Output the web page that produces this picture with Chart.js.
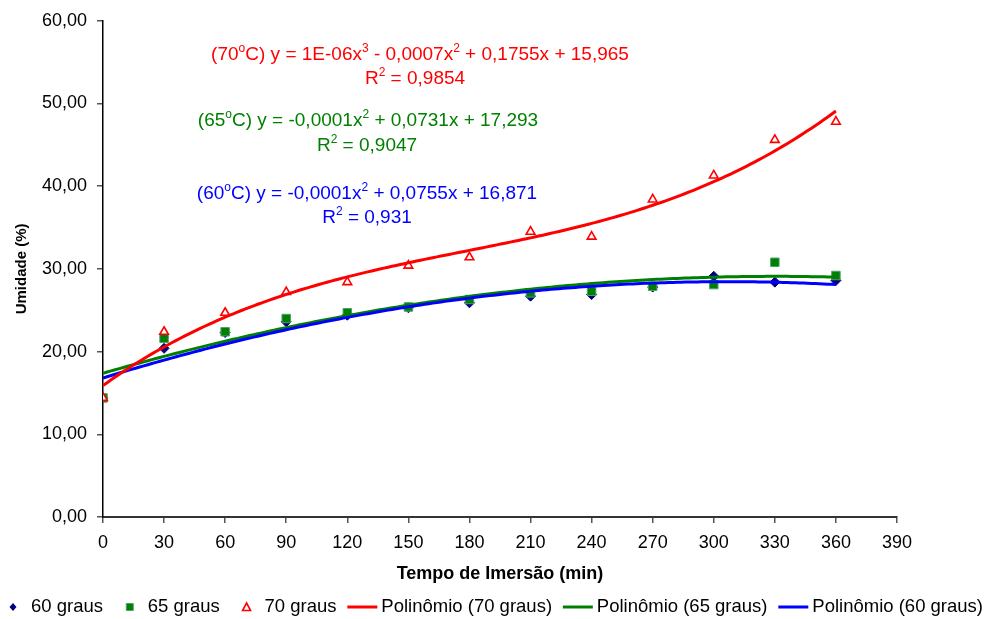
<!DOCTYPE html>
<html><head><meta charset="utf-8">
<script src="https://cdn.jsdelivr.net/npm/chart.js@4.4.1/dist/chart.umd.min.js"></script>
<style>
html,body{margin:0;padding:0;background:#fff;}
#wrap{position:relative;width:984px;height:619px;overflow:hidden;}
canvas{display:block;}
.eq{position:absolute;white-space:nowrap;font-family:"Liberation Sans",Arial,sans-serif;font-size:19px;line-height:19px;transform:translate(-50%,-50%);}
.eq sup{font-size:12px;line-height:0;vertical-align:8px;}
</style></head>
<body><div id="wrap"><canvas id="c" width="984" height="619"></canvas>
<div class="eq" style="left:420px;top:53px;color:#ff0000">(70<sup>o</sup>C) y = 1E-06x<sup>3</sup> - 0,0007x<sup>2</sup> + 0,1755x + 15,965</div>
<div class="eq" style="left:415px;top:77px;color:#ff0000">R<sup>2</sup> = 0,9854</div>
<div class="eq" style="left:368px;top:119px;color:#008000">(65<sup>o</sup>C) y = -0,0001x<sup>2</sup> + 0,0731x + 17,293</div>
<div class="eq" style="left:367px;top:144px;color:#008000">R<sup>2</sup> = 0,9047</div>
<div class="eq" style="left:367px;top:192px;color:#0000ff">(60<sup>o</sup>C) y = -0,0001x<sup>2</sup> + 0,0755x + 16,871</div>
<div class="eq" style="left:367px;top:216px;color:#0000ff">R<sup>2</sup> = 0,931</div>
</div>
<script>
// ---- data ----
const times = [0, 30, 60, 90, 120, 150, 180, 210, 240, 270, 300, 330, 360];
const u60 = [14.4, 20.4, 22.3, 23.6, 24.4, 25.3, 25.9, 26.7, 26.9, 27.8, 29.1, 28.4, 28.6];
const u65 = [14.4, 21.6, 22.4, 24.0, 24.7, 25.4, 26.3, 27.1, 27.3, 27.9, 28.1, 30.8, 29.2];
const u70 = [14.4, 22.4, 24.7, 27.2, 28.4, 30.4, 31.4, 34.5, 33.9, 38.4, 41.3, 45.6, 47.8];
const seriesLabels = ['60 graus', '65 graus', '70 graus', 'Polinômio (70 graus)', 'Polinômio (65 graus)', 'Polinômio (60 graus)'];
const xTickLabels = ['0', '30', '60', '90', '120', '150', '180', '210', '240', '270', '300', '330', '360', '390'];
const yTickLabels = ['0,00', '10,00', '20,00', '30,00', '40,00', '50,00', '60,00'];
const xTitle = 'Tempo de Imersão (min)';
const yTitle = 'Umidade (%)';

const FONT = '"Liberation Sans", Arial, sans-serif';

// least-squares polynomial trendline (as the spreadsheet trendline does)
function polyfit(xs, ys, deg) {
  const s = Math.max(...xs);
  const n = deg + 1;
  const A = [], b = [];
  for (let i = 0; i < n; i++) {
    A.push(new Array(n).fill(0)); b.push(0);
    for (let k = 0; k < xs.length; k++) {
      const t = xs[k] / s;
      b[i] += ys[k] * Math.pow(t, i);
      for (let j = 0; j < n; j++) A[i][j] += Math.pow(t, i + j);
    }
  }
  for (let c = 0; c < n; c++) {
    let p = c;
    for (let r = c + 1; r < n; r++) if (Math.abs(A[r][c]) > Math.abs(A[p][c])) p = r;
    [A[c], A[p]] = [A[p], A[c]]; [b[c], b[p]] = [b[p], b[c]];
    for (let r = 0; r < n; r++) {
      if (r === c) continue;
      const f = A[r][c] / A[c][c];
      for (let j = c; j < n; j++) A[r][j] -= f * A[c][j];
      b[r] -= f * b[c];
    }
  }
  const coef = b.map((v, i) => v / A[i][i]);
  return x => coef.reduce((acc, cf, i) => acc + cf * Math.pow(x / s, i), 0);
}
function trend(ys, deg) {
  const f = polyfit(times, ys, deg);
  const out = [];
  const xmax = times[times.length - 1];
  for (let x = 0; x <= xmax; x += 2) out.push({ x: x, y: f(x) });
  return out;
}
const pts = ys => times.map((t, i) => ({ x: t, y: ys[i] }));

const datasets = [
  { label: seriesLabels[0], data: pts(u60), pointStyle: 'rectRot', pointRadius: 5, backgroundColor: '#000080', borderColor: '#000080', borderWidth: 1, order: 12, mk: 'diamond' },
  { label: seriesLabels[1], data: pts(u65), pointStyle: 'rect', pointRadius: 6, backgroundColor: '#008000', borderColor: '#4f9f70', borderWidth: 1, order: 11, mk: 'square' },
  { label: seriesLabels[2], data: pts(u70), pointStyle: 'triangle', pointRadius: 5, backgroundColor: '#ffffff', borderColor: '#ff0000', borderWidth: 1.6, order: 10, mk: 'triangle' },
  { label: seriesLabels[3], data: trend(u70, 3), showLine: true, pointRadius: 0, borderColor: '#ff0000', backgroundColor: '#ff0000', borderWidth: 3, order: 0, mk: 'line' },
  { label: seriesLabels[4], data: trend(u65, 2), showLine: true, pointRadius: 0, borderColor: '#008000', backgroundColor: '#008000', borderWidth: 3, order: 2, mk: 'line' },
  { label: seriesLabels[5], data: trend(u60, 2), showLine: true, pointRadius: 0, borderColor: '#0000ff', backgroundColor: '#0000ff', borderWidth: 3, order: 1, mk: 'line' }
];

const legendPlugin = {
  id: 'bottomLegend',
  afterDraw(chart) {
    const ctx = chart.ctx;
    const ds = chart.data.datasets;
    ctx.save();
    ctx.font = '18.5px ' + FONT;
    ctx.textBaseline = 'middle';
    ctx.textAlign = 'left';
    const widths = ds.map(d => ctx.measureText(d.label).width);
    const total = widths.reduce((a, b) => a + b, 0);
    const startX = 31, endX = 983;
    const gap = (endX - startX - total) / (ds.length - 1);
    const y = 607;
    let x = startX;
    ds.forEach((d, i) => {
      ctx.beginPath();
      if (d.mk === 'line') {
        ctx.strokeStyle = d.borderColor; ctx.lineWidth = 3;
        ctx.moveTo(x - 34, y); ctx.lineTo(x - 4, y); ctx.stroke();
      } else {
        const cx = x - 18;
        ctx.fillStyle = d.backgroundColor; ctx.strokeStyle = d.borderColor; ctx.lineWidth = d.borderWidth;
        if (d.mk === 'diamond') {
          ctx.moveTo(cx, y - 4); ctx.lineTo(cx + 3.5, y); ctx.lineTo(cx, y + 4); ctx.lineTo(cx - 3.5, y); ctx.closePath();
          ctx.fill();
        } else if (d.mk === 'square') {
          ctx.rect(cx - 3.5, y - 3.5, 7, 7); ctx.fill(); ctx.stroke();
        } else {
          ctx.moveTo(cx, y - 4); ctx.lineTo(cx + 4, y + 3.5); ctx.lineTo(cx - 4, y + 3.5); ctx.closePath();
          ctx.fill(); ctx.stroke();
        }
      }
      ctx.fillStyle = '#000';
      ctx.fillText(d.label, x, y);
      x += widths[i] + gap;
    });
    ctx.restore();
  }
};

new Chart(document.getElementById('c'), {
  type: 'scatter',
  data: { datasets: datasets },
  plugins: [legendPlugin],
  options: {
    responsive: false,
    animation: false,
    devicePixelRatio: 1,
    layout: { padding: { left: 0, right: 87, top: 16, bottom: 30 } },
    plugins: { legend: { display: false }, tooltip: { enabled: false } },
    elements: { line: { tension: 0 } },
    scales: {
      x: {
        type: 'linear', min: 0, max: 390,
        afterFit(s) { s.height = 72; },
        ticks: { stepSize: 30, autoSkip: false, maxRotation: 0, padding: 9, color: '#000',
          font: { family: FONT, size: 18 }, callback: (v, i) => xTickLabels[i] },
        grid: { drawOnChartArea: false, drawTicks: true, tickLength: 6, color: '#555', lineWidth: 1.5 },
        border: { display: true, color: '#333', width: 2 },
        title: { display: true, text: xTitle, color: '#000', font: { family: FONT, size: 18, weight: 'bold' }, padding: { top: 0, bottom: 4 } }
      },
      y: {
        min: 0, max: 60,
        afterFit(s) { s.width = 103; },
        ticks: { stepSize: 10, padding: 10, color: '#000', font: { family: FONT, size: 18 }, callback: (v, i) => yTickLabels[i] },
        grid: { drawOnChartArea: false, drawTicks: true, tickLength: 6, color: '#555', lineWidth: 1.5 },
        border: { display: true, color: '#000', width: 1.5 },
        title: { display: true, text: yTitle, color: '#000', font: { family: FONT, size: 15, weight: 'bold' }, padding: { top: 13, bottom: 0 } }
      }
    }
  }
});
</script>
</body></html>
